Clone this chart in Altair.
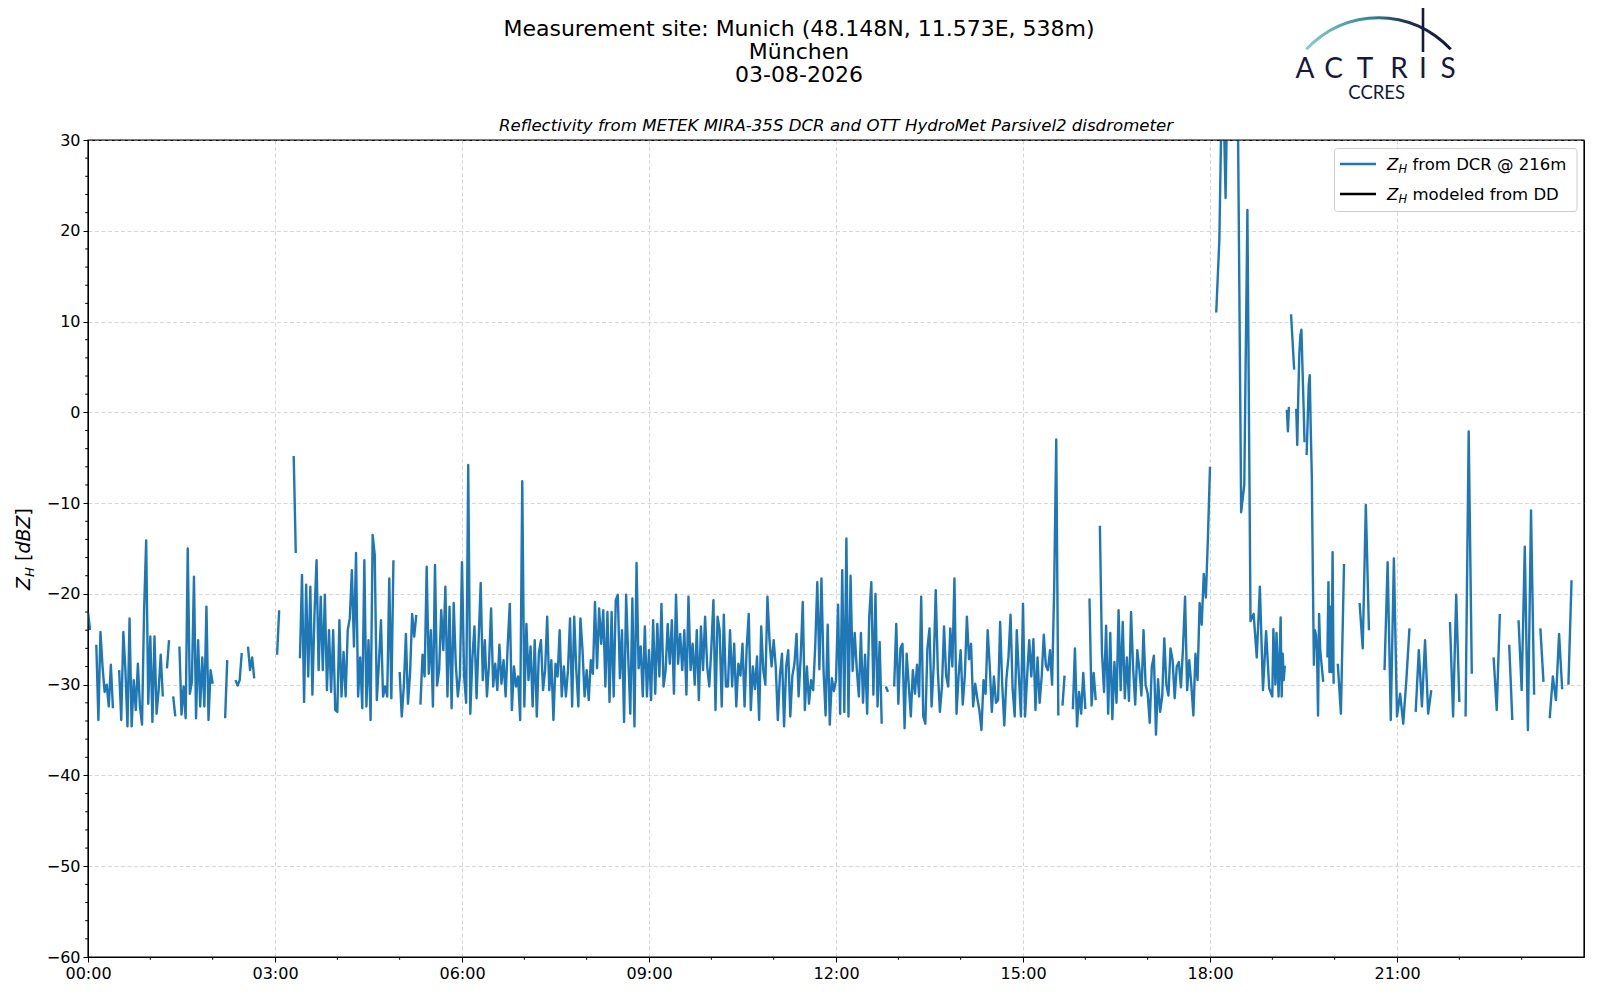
import altair as alt
import pandas as pd

# ---------------- data (dBZ, one list per hour; step = 60 / len(list) minutes) -------------
hour_00 = [-22, -24, None, None, -25.6, -33.9, -24.2, -28, -30.8, -30, -32.4, -27.8, -32.6, None, None,
           -28.4, -33.9, -24.2, -28.4, -34.6, -22.7, -34.6, -29.5, -32.8, -27.7, -32.4, -34.4, -21.8, -14.1, -32.1]
hour_01 = [-24.7, -34.1, -24.7, -33.2, -30.6, -26.7, -31.3, None, -28.2, -25.1, None, -31.3, -33.5, None, -25.8,
           -33.3, -30.2, -33.7, -15, -31, -29.7, -18.1, -33.7, -25.1, -32.4, -27, -32.4, -21.4, -33.9, -28.4]
hour_02 = [-29.9, None, None, None, None, None, -33.7, -27.3, None, None, None, -29.5, -30.1, -29.5, -26.5,
           None, None, -25.8, -28.4, -27, -29.3, None, None, None, None, None, None, None, None, None]
hour_03 = [None, -26.7, -21.8, None, None, None, None, None, None, -4.8, -15.5, None, -27.1, -17.9, -31.9,
           -19, -29.1, -19.2, -31.1, -22.2, -16.3, -28.4, -20.3, -28.4, -20.1, -30.6, -24, -30.8, -24, -32.8]
hour_04 = [-33, -22.9, -31.3, -26.4, -31.3, -24, -22.7, -17.4, -25.8, -15.5, -31.3, -27, -32.6, -16.3, -32.4,
           -25.1, -33.9, -13.5, -15.7, -31.7, -27.7, -22.9, -31.3, -30.2, -31.3, -18.3, -31.5, -16.3, None, None]
hour_05 = [-28.6, -33.5, -30.2, -24.4, -32.1, -28.8, -22.2, -24.7, -22.3, None, -32.2, -26.7, -29.1, -17, -28.8,
           -24, -32.4, -16.8, -30.1, -28.4, -21.8, -26.2, -19.2, -31.3, -21.4, -32.6, -21, -27.7, -31.3, -29]
hour_06 = [-16.5, -29, -32, -5.8, -33.2, -27, -23.6, -31.5, -25.1, -18.8, -29.5, -25.1, -31.3, -27.7, -21.6,
           -30.2, -27.7, -30.6, -25.6, -29.9, -27.3, -31.3, -25.6, -21.1, -32.8, -28, -30.2, -29.1, -33.9, -7.6]
hour_07 = [-32.4, -23.3, -29.5, -25.8, -32.4, -25.1, -33.5, -26.5, -25.1, -30.6, -28.4, -22.5, -30.6, -27.3, -33.9,
           -27.7, -29.1, -24, -31.3, -28, -31.3, -28.4, -22.7, -32.4, -22.5, -28.4, -32.4, -22.7, -26.2, -31.3]
hour_08 = [-28.4, -31.7, -27.3, -28.8, -20.9, -28.2, -21.6, -25.5, -21.8, -30.2, -22, -31.9, -22, -31.3, -20.7,
           -20.1, -29.3, -24, -34.1, -20.1, -26.9, -33.2, -20.5, -34.6, -16.6, -28.2, -25.8, -31.3, -23.6, -31.3]
hour_09 = [-26.2, -31.7, -22.9, -31, -23.3, -29.1, -21.1, -30.2, -28.4, -23.3, -27.7, -22.9, -31, -20.1, -27.7,
           -24.4, -28.4, -24, -31.1, -20.3, -28.4, -25.5, -30, -24, -31.7, -23.6, -28.4, -22.5, -28, -30.2]
hour_10 = [-26, -20.7, -32.8, -22.5, -24, -32.4, -22.3, -30.2, -30.2, -24, -30.2, -25.5, -32.4, -27.7, -29,
           -25.5, -32.4, -26, -22.2, -32.8, -28, -30.5, -26.9, -33.9, -23.6, -28.4, -30, -20.3, -25.1, -28]
hour_11 = [-25.1, -28, -33.9, -29, -26.6, -34.6, -28, -26.2, -33.5, -29, -27.7, -24.4, -31.3, -27, -20.9,
           -32.8, -28, -32.1, -29.5, -30.6, -25.8, -18.7, -28.3, -18.3, -28.4, -33.4, -23.4, -34.4, -29.3, -30.7]
hour_12 = [-29.5, -21.2, -33.2, -17.4, -33, -13.9, -33.5, -18, -28.5, -24.3, -28.3, -31.3, -24.3, -32, -26.7,
           -33.2, -22.5, -18.7, -31.1, -20, -32.4, -25.3, -34.3, None, -30.2, -30.8, None, None, -30.2, -23.3]
hour_13 = [-32.1, -26, -25.5, -34.8, -26.6, -30, -33.5, -28.4, -31, -27.8, -31.3, -20.3, -33.5, -34.3, -26,
           -23.8, -32.4, -28, -19.6, -28.4, -33, -30.2, -23.6, -29, -30.2, -23.8, -28, -18.3, -33.2, -29]
hour_14 = [-26.2, -32.2, -29, -22.5, -27.2, -25.5, -32.4, -29.9, -31.5, -32.8, -35, -29.5, -31, -24, -28,
           -33, -29.1, -32, -31.7, -23.1, -30, -34.5, -29.4, -27, -22.3, -30.5, -33.5, -24, -29, -33.5]
hour_15 = [-21.1, -33.5, -29, -25.1, -29.1, -25, -32.8, -27, -32, -29.1, -24.5, -27.9, -28.4, -26.2, -30,
           -19.5, -3, -33.4, None, -32.3, -29, None, None, None, -32.7, -26, -34.6, -30.8, -33.2, -28.7]
hour_16 = [-32.7, None, -20.5, -32.3, -28.7, -31.7, None, -12.5, -26.4, -30.8, -23.5, -33.2, -24.3, -33.8, -27.5,
           -32, -21.8, -30.6, -23.1, -31.5, -27, -31.8, -22, -28.2, -32.2, -26.2, -28.3, -31.2, -24, -30]
hour_17 = [-31, -34.2, -28, -26.8, -35.5, -29.4, -33, -31.3, -24.9, -30, -31.2, -26, -27.3, -31.5, -28,
           -27.5, -30.3, -26, -20.3, -30.6, -27.3, -30, -33.4, -26.6, -29.5, -21, -23.4, -17.8, -20.4, -13.8]
hour_18 = [-6, None, 11, 19, 40, 23.6, 45, 50, 40, 31, -11, -8, 22.3, -23, -22.2, -27, -19.2, -30.6, -24.1, -30.4]
hour_19 = [-31.3, -23.9, -27, -30, -24.3, -27.5, -31.3, -27, -22.6, -31.3,
           -26.6, -29.5, -27.9, None, 0.3, -2.1, 0.6, None, 10.8, 8.8,
           6.8, 4.7, None, 0.4, -3.6, 2, 6.5, 8.5, 9.1, 5,
           1, -3.3, None, -4.7, -1, 3, 4.1, -2, -7, -18,
           -27.8, -24, -24.5, -26.2, -33.4, -22.2, -26, -27.3, -28.5, -29.7,
           None, None, None, -27, -18.7, -28.6, -21.4, -28.6, -15.4, -29.9]
hour_20 = [None, -27.7, -33.2, -16.7, None, None, None, None, -21, -26, -10.2, -24, None, None, None, None, -28.4, -16.5, -33.9, -16.1]
hour_21 = [-33.5, -31, -34.3, -29.5, -23.8, None, -33, -26.2, -32.4, -25.1, -33.2, -30.6, None, None, None, None, None, -23.1, -33.5, -20.1]
hour_22 = [-31.9, None, -33.5, -2.1, -28.8, None, None, None, None, None, None, -27, -32.8, -22.2, None, None, -25.6, -33.9, None, -22.9]
hour_23 = [-30.6, -14.8, -35, -10.8, -31.1, None, -23.8, -29.7, None, -33.7, -29.1, -31.7, -24.4, -30.5, None, -30, -18.5, None, None, None]

hours = [hour_00, hour_01, hour_02, hour_03, hour_04, hour_05, hour_06, hour_07,
         hour_08, hour_09, hour_10, hour_11, hour_12, hour_13, hour_14, hour_15,
         hour_16, hour_17, hour_18, hour_19, hour_20, hour_21, hour_22, hour_23]

x_major = [0, 3, 6, 9, 12, 15, 18, 21]
x_minor = [h for h in range(1, 24) if h % 3 != 0]
y_major = list(range(-60, 31, 10))
y_minor = [v for v in range(-58, 30, 2) if v % 10 != 0]

rows = []
seg = 0
prev_none = True
for h, vals in enumerate(hours):
    step = 60.0 / len(vals)
    for k, v in enumerate(vals):
        if v is None:
            if not prev_none:
                seg += 1
            prev_none = True
            continue
        rows.append({"t": h + k * step / 60.0, "v": v, "seg": seg})
        prev_none = False
df = pd.DataFrame(rows)

W, H = 1496, 817
BLUE = "#1f77b4"
NAVY = "#161a3a"
xs = alt.Scale(domain=[0, 24], nice=False, zero=False)
ys = alt.Scale(domain=[-60, 30], nice=False, zero=False)
ax_x = alt.Axis(values=x_major, title=None, labelFlush=False,
                labelExpr="(datum.value < 10 ? '0' : '') + datum.value + ':00'")
ax_y = alt.Axis(values=y_major, format="d", title=None, labelFlush=False)

line = alt.Chart(df).mark_line(color=BLUE, strokeWidth=2.4, clip=True,
                               strokeJoin="round").encode(
    x=alt.X("t:Q", scale=xs, axis=ax_x),
    y=alt.Y("v:Q", scale=ys, axis=ax_y),
    detail="seg:N",
)

ymin = alt.Chart(pd.DataFrame({"v": y_minor})).mark_rule(color="black", strokeWidth=1).encode(
    y=alt.Y("v:Q", scale=ys, axis=ax_y), x=alt.value(-2.8), x2=alt.value(0))
xmin = alt.Chart(pd.DataFrame({"t": x_minor})).mark_rule(color="black", strokeWidth=1).encode(
    x=alt.X("t:Q", scale=xs, axis=ax_x), y=alt.value(H), y2=alt.value(H + 2.8))


def txt(s, x, y, size=16, style="normal", weight="normal", align="left",
        baseline="alphabetic", angle=0, color="black", font="DejaVu Sans"):
    return alt.Chart(pd.DataFrame({"s": [s]})).mark_text(
        align=align, baseline=baseline, fontSize=size, fontStyle=style,
        fontWeight=weight, angle=angle, color=color, font=font,
    ).encode(text="s:N", x=alt.value(x), y=alt.value(y))


one = pd.DataFrame({"a": [0]})

frame = alt.Chart(one).mark_rect(filled=False, stroke="black", strokeWidth=1.2).encode(
    x=alt.value(0), x2=alt.value(W), y=alt.value(0), y2=alt.value(H))

# legend
legend_box = alt.Chart(one).mark_rect(fill="white", fillOpacity=0.8, stroke="#cccccc",
                                      strokeWidth=1, cornerRadius=3).encode(
    x=alt.value(1246.5), x2=alt.value(1489), y=alt.value(8.5), y2=alt.value(71.5))
leg_l1 = alt.Chart(one).mark_rule(color=BLUE, strokeWidth=2.4).encode(
    x=alt.value(1252), x2=alt.value(1288), y=alt.value(24))
leg_l2 = alt.Chart(one).mark_rule(color="black", strokeWidth=2.4).encode(
    x=alt.value(1252), x2=alt.value(1288), y=alt.value(54))
legend = [
    legend_box, leg_l1, leg_l2,
    txt("Z", 1299, 29.5, size=16.5, style="italic"),
    txt("H", 1310.5, 33, size=11.5, style="italic"),
    txt("from DCR @ 216m", 1324.5, 29.5, size=16.5),
    txt("Z", 1299, 59.5, size=16.5, style="italic"),
    txt("H", 1310.5, 63, size=11.5, style="italic"),
    txt("modeled from DD", 1324.5, 59.5, size=16.5),
]

# y-axis title  Z_H [dBZ]
ytitle = [
    txt("Z", -58, 450, size=19, style="italic", angle=270),
    txt("H", -54, 437, size=13, style="italic", angle=270),
    txt("[", -58, 421, size=19, angle=270),
    txt("dBZ", -58, 413.6, size=19, style="italic", angle=270),
    txt("]", -58, 375.5, size=19, angle=270),
]

titles = [
    txt("Measurement site: Munich (48.148N, 11.573E, 538m)", 711, -111, size=22,
        align="center", baseline="middle"),
    txt("München", 711, -88.5, size=22, align="center", baseline="middle"),
    txt("03-08-2026", 711, -65.5, size=22, align="center", baseline="middle"),
    txt("Reflectivity from METEK MIRA-35S DCR and OTT HydroMet Parsivel2 disdrometer",
        748, -14.5, size=16.6, style="italic", align="center", baseline="middle"),
]

# ACTRIS CCRES logo
arc = alt.Chart(one).mark_arc(
    theta=5.458, theta2=7.109, radius=99.8, radius2=96.8,
    color=alt.LinearGradient(
        gradient="linear",
        stops=[alt.GradientStop(color="#86d3cc", offset=0),
               alt.GradientStop(color="#2f8696", offset=0.45),
               alt.GradientStop(color="#1d2c4e", offset=0.72),
               alt.GradientStop(color="#131735", offset=1)],
        x1=0, x2=1, y1=0, y2=0),
).encode(x=alt.value(1290.5), y=alt.value(-24))
vline = alt.Chart(one).mark_rule(color=NAVY, strokeWidth=2.6).encode(
    x=alt.value(1335), y=alt.value(-139), y2=alt.value(-88))
letters = ["A", "C", "T", "R", "I", "S"]
letter_x = [1217, 1245.5, 1277, 1311, 1335, 1360]
logo = [arc, vline] + [
    txt(l, lx, -61.7, size=28, align="center", color=NAVY, font="Lato")
    for l, lx in zip(letters, letter_x)
] + [txt("CCRES", 1288.7, -40.7, size=18.5, align="center", color=NAVY, font="Lato")]

chart = alt.layer(line, ymin, xmin, frame, *legend, *ytitle, *titles, *logo).properties(
    width=W, height=H,
    autosize=alt.AutoSizeParams(type="none"),
    padding={"left": 80, "top": 132, "right": 8, "bottom": 35},
).configure_view(stroke="black", strokeWidth=1).configure_axis(
    domainColor="black", domainWidth=1, tickColor="black", tickWidth=1, tickSize=5,
    labelColor="black", labelFont="DejaVu Sans", labelFontSize=16, labelPadding=3,
    grid=True, gridColor="#d3d3d3", gridDash=[4, 2.5], gridWidth=0.9,
)

chart.save("out.html", embed_options={"renderer": "svg", "actions": False})
